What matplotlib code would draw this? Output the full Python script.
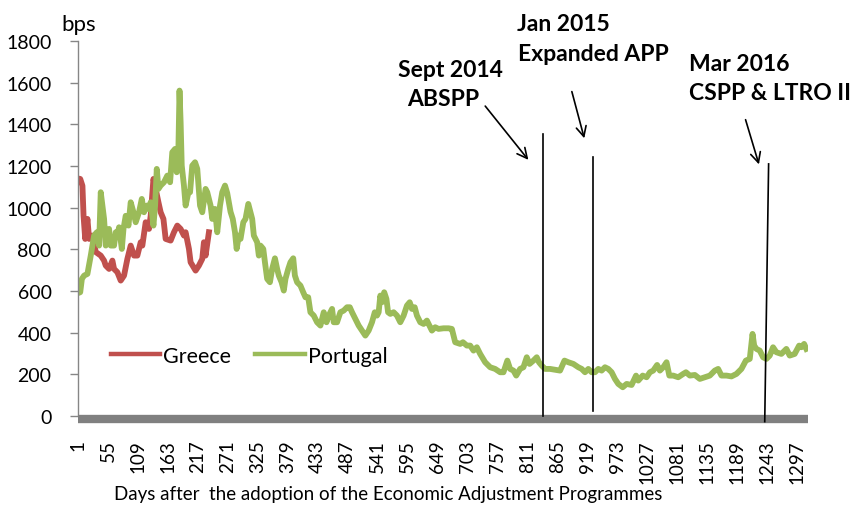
import matplotlib
matplotlib.use("Agg")
import matplotlib.pyplot as plt

plt.rcParams['font.family'] = ['Lato', 'DejaVu Sans']

# Greece spread (bps) by day
gr_days = [1, 5, 9, 11, 14, 18, 21, 27, 33, 42,
           48, 51, 57, 63, 66, 72, 78, 84, 90, 96,
           102, 108, 114, 117, 123, 129, 132, 137, 141, 146,
           150, 155, 159, 168, 174, 180, 186, 192, 195, 201,
           204, 213, 219, 225, 228, 231, 237]
gr_bps = [1140, 1138, 1105, 961, 850, 946, 850, 866, 787, 770,
          746, 722, 706, 746, 706, 690, 650, 674, 754, 818,
          770, 770, 834, 818, 930, 898, 961, 1138, 1090, 1026,
          978, 946, 850, 842, 882, 914, 898, 866, 882, 802,
          738, 698, 722, 754, 834, 770, 882]

# Portugal spread (bps) by day
pt_days = [1, 5, 8, 12, 18, 24, 30, 35, 39, 42,
           45, 48, 51, 54, 57, 60, 66, 69, 72, 75,
           80, 83, 87, 92, 96, 101, 105, 111, 116, 120,
           125, 129, 132, 137, 140, 143, 146, 150, 156, 162,
           167, 171, 176, 179, 182, 184, 186, 188, 192, 195,
           200, 203, 207, 212, 216, 221, 225, 231, 234, 240,
           243, 248, 252, 257, 261, 266, 270, 273, 276, 280,
           284, 287, 291, 294, 299, 303, 308, 312, 315, 318,
           324, 327, 330, 335, 338, 342, 347, 351, 356, 360,
           363, 368, 372, 375, 380, 384, 389, 392, 396, 402,
           407, 411, 416, 420, 426, 432, 438, 444, 449, 453,
           459, 462, 468, 474, 480, 486, 491, 495, 501, 507,
           513, 519, 525, 531, 536, 540, 543, 546, 549, 553,
           557, 560, 564, 570, 576, 582, 588, 594, 599, 603,
           608, 612, 618, 624, 630, 639, 645, 651, 660, 669,
           675, 681, 690, 695, 702, 708, 714, 720, 726, 735,
           744, 753, 762, 768, 775, 780, 786, 791, 798, 804,
           810, 815, 822, 828, 832, 837, 843, 852, 861, 870,
           878, 885, 894, 903, 909, 915, 921, 927, 933, 939,
           945, 951, 957, 963, 969, 975, 983, 990, 999, 1007,
           1011, 1019, 1026, 1032, 1038, 1045, 1050, 1056, 1062, 1067,
           1074, 1083, 1092, 1097, 1104, 1113, 1122, 1131, 1140, 1149,
           1155, 1161, 1170, 1179, 1188, 1197, 1205, 1212, 1217, 1220,
           1224, 1230, 1236, 1242, 1248, 1254, 1260, 1269, 1278, 1284,
           1293, 1301, 1305, 1310, 1314]
pt_bps = [590, 594, 658, 674, 682, 770, 866, 882, 818, 1074,
          1010, 946, 818, 850, 898, 818, 818, 882, 866, 906,
          802, 898, 961, 914, 1026, 978, 930, 978, 1042, 978,
          1010, 994, 1026, 914, 1010, 1186, 1090, 1106, 1122, 1154,
          1122, 1266, 1282, 1170, 1282, 1562, 1410, 1202, 1106, 1010,
          1074, 1074, 1202, 1218, 1186, 1010, 978, 1090, 1074, 1010,
          946, 994, 882, 1010, 1074, 1106, 1070, 1026, 980, 946,
          882, 802, 866, 850, 930, 946, 1018, 978, 946, 866,
          834, 770, 818, 802, 738, 658, 642, 706, 757, 706,
          674, 642, 602, 658, 706, 738, 757, 674, 642, 626,
          594, 570, 570, 498, 482, 450, 434, 498, 450, 482,
          514, 450, 450, 498, 506, 522, 522, 498, 466, 434,
          410, 386, 410, 450, 498, 482, 498, 578, 546, 594,
          562, 498, 490, 498, 482, 450, 482, 530, 546, 514,
          522, 482, 450, 442, 458, 410, 426, 418, 421, 421,
          418, 354, 346, 354, 338, 338, 314, 330, 298, 258,
          234, 226, 210, 210, 266, 226, 218, 194, 226, 234,
          282, 250, 266, 282, 258, 242, 226, 226, 222, 218,
          266, 258, 250, 234, 226, 210, 226, 210, 210, 226,
          218, 234, 226, 210, 178, 154, 138, 154, 149, 194,
          170, 194, 186, 210, 218, 245, 218, 234, 258, 194,
          194, 186, 202, 210, 194, 197, 178, 186, 194, 218,
          226, 194, 194, 190, 202, 226, 266, 274, 394, 338,
          322, 314, 282, 274, 290, 330, 306, 298, 322, 290,
          298, 338, 330, 346, 322]

xticks = list(range(1, 1298, 54))
yticks = list(range(0, 1801, 200))

# ECB policy events: vertical markers
ev_day_top = [840, 929, 1246]
ev_day_bot = [840, 929, 1239]
ev_top = [1354, 1243, 1210]
ev_bot = [0, 24, -27]

# labels: (text, left day, value)
ev_labels = [("Sept 2014", 577, 1661), ("ABSPP", 595, 1522),
             ("Jan 2015", 792, 1886), ("Expanded APP", 794, 1738),
             ("Mar 2016", 1103, 1694), ("CSPP & LTRO II", 1103, 1555)]
# arrows: start (day, value) -> end (day, value)
arr_start = [(732, 1498), (890, 1570), (1203, 1435)]
arr_end = [(816, 1219), (915, 1320), (1230, 1195)]

fig = plt.figure(figsize=(8.5, 5.06), dpi=100)
ax = fig.add_axes([78/850, 1 - 417/506, 730/850, 375/506])

ax.plot(gr_days, gr_bps, color='#C0504D', lw=4.2, label='Greece', solid_joinstyle='round')
ax.plot(pt_days, pt_bps, color='#9BBB59', lw=4.2, label='Portugal', solid_joinstyle='round')

for d0, d1, t, b in zip(ev_day_top, ev_day_bot, ev_top, ev_bot):
    ax.plot([d0, d1], [t, b], color='black', lw=1.2, clip_on=False, zorder=5)

for txt, d, v in ev_labels:
    ax.text(d, v, txt, fontsize=16.5, fontweight='bold', ha='left', va='center', clip_on=False)

for s, e in zip(arr_start, arr_end):
    ax.annotate('', xy=e, xytext=s, annotation_clip=False,
                arrowprops=dict(arrowstyle='->', color='black', lw=1.2, mutation_scale=18))

ax.set_xlim(1, 1317)
ax.set_ylim(0, 1800)
ax.set_xticks(xticks)
ax.set_xticklabels([str(t) for t in xticks])
ax.set_yticks(yticks)
ax.tick_params(axis='y', length=6, width=1, color='#868686', labelsize=14, pad=13)
ax.tick_params(axis='x', length=0, pad=14, labelsize=13.5, labelrotation=90)

for side in ['top', 'right']:
    ax.spines[side].set_visible(False)
ax.spines['left'].set_color('#868686')
ax.spines['left'].set_linewidth(1)
ax.spines['bottom'].set_color('#808080')
ax.spines['bottom'].set_linewidth(6)
ax.spines['bottom'].set_position(('outward', 2.5))
ax.spines['bottom'].set_capstyle('butt')

fig.text(61/850, 1 - 25/506, 'bps', fontsize=16, va='center', ha='left')
fig.text(388/850, 1 - 495/506, 'Days after  the adoption of the Economic Adjustment Programmes',
         fontsize=13.5, ha='center', va='center')

ax.legend(loc='center', bbox_to_anchor=(249/850, 1 - 357/506), bbox_transform=fig.transFigure,
          ncol=2, frameon=False, fontsize=15.5, handlelength=2.3, handletextpad=0.15,
          columnspacing=1.1, borderpad=0)
for line in ax.get_legend().get_lines():
    line.set_linewidth(3.2)

fig.savefig('out.png', dpi=100)
